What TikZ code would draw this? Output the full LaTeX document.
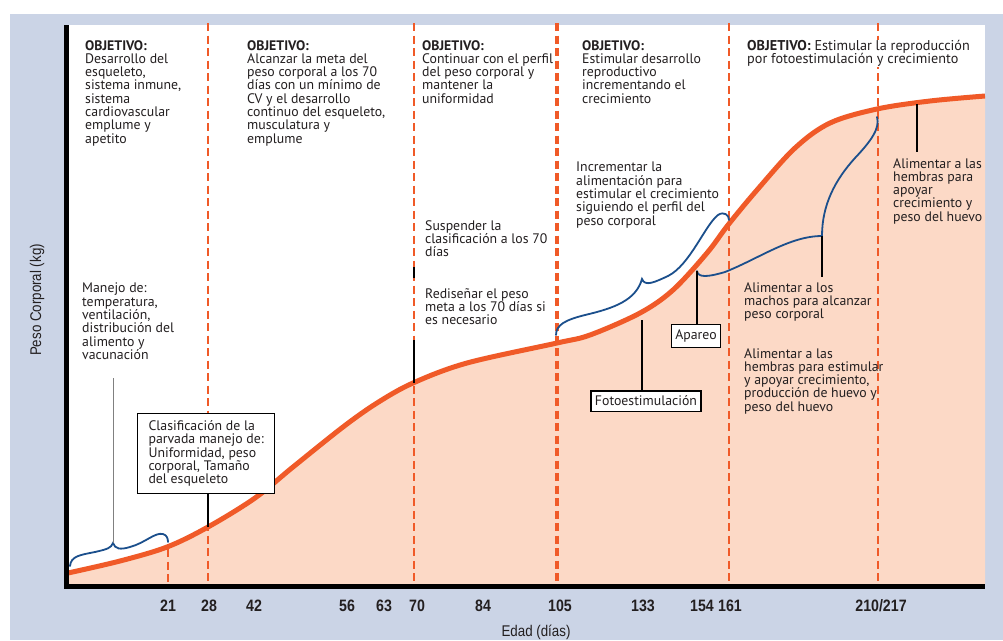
\documentclass[tikz,border=0pt]{standalone}
\usepackage{fontspec}
\setmainfont{PT Sans}
\newfontfamily\narrowfont[FakeStretch=0.86]{Liberation Sans}
\usepackage{tikz}
\usetikzlibrary{calc,positioning}
\definecolor{bgblue}{HTML}{CBD4E6}
\definecolor{curveorange}{HTML}{F05A28}
\definecolor{peach}{HTML}{FCD9C6}
\definecolor{braceblue}{HTML}{1B4F8C}
\definecolor{txtgray}{HTML}{231F20}

\begin{document}
\begin{tikzpicture}[x=1pt,y=-1pt]
        \tikzstyle{tnode} = [anchor=north west, inner sep=0pt, align=left, text=txtgray, font=\fontsize{13.8}{13.3}\selectfont]
        \tikzstyle{bnode} = [draw=black, line width=1.1pt, fill=white, inner xsep=4pt, inner ysep=5pt, text=txtgray, font=\fontsize{13.8}{13.3}\selectfont]
        \tikzstyle{dline} = [curveorange, line width=2.6pt, dash pattern=on 8pt off 4.5pt]
        \tikzstyle{brace} = [braceblue, line width=1.8pt, line cap=round]
        \tikzstyle{leader} = [black, line width=1.1pt]
        \tikzstyle{tick} = [text=txtgray, font=\narrowfont\bfseries\fontsize{16.5}{16.5}\selectfont]

        \useasboundingbox (0,0) rectangle (1003,640);
        \fill[white] (0,0) rectangle (1003,640);
        \fill[bgblue] (10,14) rectangle (1003,640);
        \fill[white] (66,25) rectangle (985,586);

        \fill[peach] (68,584) -- plot[smooth, tension=0.55] coordinates {(68,573) (120,561) (167,547) (208,527) (255,498) (293,467) (343,427) (377,403) (413,383) (467,363) (557,343) (590,335) (640,313) (673,290) (707,253) (728,225) (757,190) (795,148) (830,123) (877,109) (930,101) (985,96)} -- (985,584) -- cycle;

        \draw[dline] (168,549) -- (168,584);
        \draw[dline] (208,23) -- (208,584);
        \draw[dline] (414,23) -- (414,584);
        \draw[dline, line width=4pt] (557,23) -- (557,584);
        \draw[dline, line width=2.2pt] (729,23) -- (729,584);
        \draw[dline, line width=2.2pt] (878,23) -- (878,584);

        \draw[curveorange, line width=5pt] plot[smooth, tension=0.55] coordinates {(68,573) (120,561) (167,547) (208,527) (255,498) (293,467) (343,427) (377,403) (413,383) (467,363) (557,343) (590,335) (640,313) (673,290) (707,253) (728,225) (757,190) (795,148) (830,123) (877,109) (930,101) (985,96)};

        \coordinate (cusp1) at (113,543);
        \coordinate (cusp2) at (642,279);
        \coordinate (cusp3) at (822,236);
        \coordinate (apStart) at (697,271);
        \coordinate (c28) at (208,527);
        \coordinate (c70) at (414,383);
        \coordinate (c70a) at (414,267);
        \coordinate (c70b) at (414,278);
        \coordinate (c70c) at (414,340);
        \coordinate (foTop) at (642,320);
        \coordinate (cRight) at (917,104);

        \draw[brace] (70,566) .. controls (71,556) and (80,555) .. (95,552) .. controls (108,549) and (111,548) .. (cusp1) .. controls (115,549) and (120,550) .. (130,547) .. controls (145,543) and (155,532) .. (163,534) .. controls (167,535) and (168,539) .. (168,542);
        \draw[brace] (556,335) .. controls (556,325) and (565,320) .. (585,315) .. controls (615,308) and (636,300) .. (cusp2) .. controls (645,287) and (655,282) .. (668,276) .. controls (690,265) and (705,225) .. (718,215) .. controls (724,211) and (729,215) .. (729,220);
        \draw[brace] (apStart) .. controls (698,278) and (708,277) .. (725,272) .. controls (760,258) and (790,236) .. (cusp3) .. controls (822,205) and (835,180) .. (855,158) .. controls (872,140) and (880,128) .. (877,117);

        \node[tnode] (obj1) at (85,40) {\textbf{OBJETIVO:}\\Desarrollo del\\esqueleto,\\sistema inmune,\\sistema\\cardiovascular\\emplume y\\apetito};
        \node[tnode] (obj2) at (247,40) {\textbf{OBJETIVO:}\\Alcanzar la meta del\\peso corporal a los 70\\días con un mínimo de\\CV y el desarrollo\\continuo del esqueleto,\\musculatura y\\emplume};
        \node[tnode] (obj3) at (422,40) {\textbf{OBJETIVO:}\\Continuar con el perfil\\del peso corporal y\\mantener la\\uniformidad};
        \node[tnode] (obj4) at (582,40) {\textbf{OBJETIVO:}\\Estimular desarrollo\\reproductivo\\incrementando el\\crecimiento};
        \node[tnode, fill=white, font=\fontsize{14.2}{13.3}\selectfont] (obj5) at (747,40) {\textbf{OBJETIVO:} Estimular la reproducción\\por fotoestimulación y crecimiento};

        \node[tnode] (manejo) at (82,283) {Manejo de:\\temperatura,\\ventilación,\\distribución del\\alimento y\\vacunación};
        \node[tnode] (suspender) at (425,220) {Suspender la\\clasificación a los 70\\días};
        \node[tnode] (redisenar) at (425,288) {Rediseñar el peso\\meta a los 70 días si\\es necesario};
        \node[tnode] (incrementar) at (576,162) {Incrementar la\\alimentación para\\estimular el crecimiento\\siguiendo el perfil del\\peso corporal};
        \node[tnode] (machos) at (744,282) {Alimentar a los\\machos para alcanzar\\peso corporal};
        \node[tnode] (hembras) at (744,348) {Alimentar a las\\hembras para estimular\\y apoyar crecimiento,\\producción de huevo y\\peso del huevo};
        \node[tnode] (hembrasR) at (893,158) {Alimentar a las\\hembras para\\apoyar\\crecimiento y\\peso del huevo};

        \node[bnode, anchor=north west, align=left, inner xsep=11pt, inner ysep=7pt] (clasif) at (137,413) {Clasificación de la\\parvada manejo de:\\Uniformidad, peso\\corporal, Tamaño\\del esqueleto};
        \node[bnode] (apareo) at (696,336) {Apareo};
        \node[bnode] (foto) at (646,401) {Fotoestimulación};

        \draw[gray, line width=1pt] (cusp1 |- 0,378) -- (cusp1);
        \draw[leader] (clasif.south -| c28) -- (c28);
        \draw[leader] (c70a) -- (c70b);
        \draw[leader] (c70c) -- (c70);
        \draw[leader] (foTop) -- (foto.north -| foTop);
        \draw[leader] (apStart) -- (apareo.north -| apStart);
        \draw[leader] (cusp3) -- ($(cusp3 |- machos.north)+(0,-5)$);
        \draw[leader] (cRight) -- ($(cRight |- hembrasR.north)+(0,-6)$);

        \draw[black, line width=5pt] (66,25) -- (66,586) -- (985,586);

        \foreach \x/\d in {168/21, 209/28, 254/42, 347/56, 384/63, 417/70, 483/84, 560/105, 643/133, 702/154, 730/161}
          \node[tick] (t\d) at (\x,606) {\d};
        \node[tick] (t210) at (881,606) {210/217};

        \node[text=txtgray, font=\narrowfont\fontsize{15.5}{15.5}\selectfont] (xlab) at (536,632) {Edad (días)};
        \node[rotate=90, text=txtgray, font=\narrowfont\fontsize{15.5}{15.5}\selectfont] (ylab) at (37,300) {Peso Corporal (kg)};
      \end{tikzpicture}
\end{document}
